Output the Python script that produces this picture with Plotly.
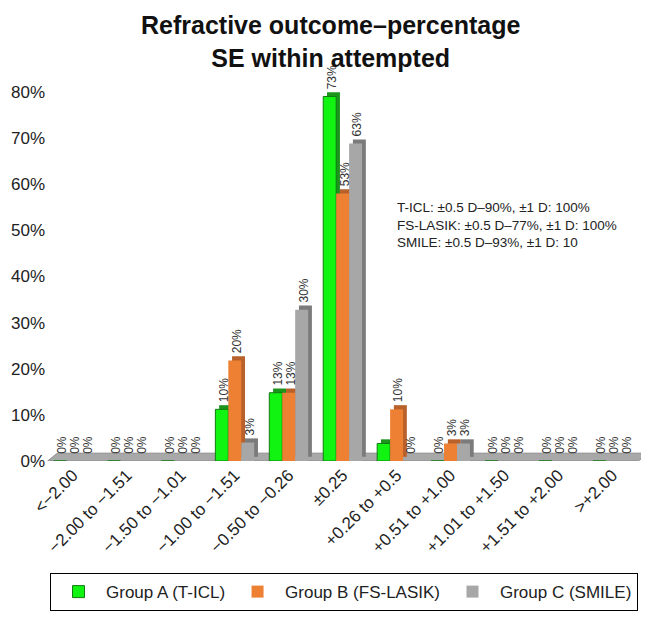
import plotly.graph_objects as go

categories = ["<\u22122.00", "\u22122.00 to \u22121.51", "\u22121.50 to \u22121.01", "\u22121.00 to \u22121.51",
              "\u22120.50 to \u22120.26", "\u00b10.25", "+0.26 to +0.5", "+0.51 to +1.00",
              "+1.01 to +1.50", "+1.51 to +2.00", ">+2.00"]

group_a = [0, 0, 0, 11.2, 14.8, 79.0, 3.8, 0, 0, 0, 0]
group_b = [0, 0, 0, 21.8, 14.8, 58.0, 11.2, 3.8, 0, 0, 0]
group_c = [0, 0, 0, 4.0, 32.8, 68.8, 0, 3.8, 0, 0, 0]

labels_a = ["0%", "0%", "0%", "10%", "13%", "73%", "", "0%", "0%", "0%", "0%"]
labels_b = ["0%", "0%", "0%", "20%", "13%", "53%", "10%", "3%", "0%", "0%", "0%"]
labels_c = ["0%", "0%", "0%", "3%", "30%", "63%", "0%", "3%", "0%", "0%", "0%"]

y_ticks = [0, 10, 20, 30, 40, 50, 60, 70, 80]
y_ticktext = ["0%", "10%", "20%", "30%", "40%", "50%", "60%", "70%", "80%"]

names = ["Group A (T-ICL)", "Group B (FS-LASIK)", "Group C (SMILE)"]
face = ["#11F311", "#EE8033", "#A7A7A7"]
side = ["#1C951C", "#B9612A", "#7B7B7B"]
edge = ["#137A13", "#EE8033", "#A7A7A7"]

series = [group_a, group_b, group_c]
labels = [labels_a, labels_b, labels_c]
bw = 0.24
offsets = [-0.36, -0.12, 0.12]
dx, dy = 0.07, 0.9

FONT = "Liberation Sans, Arial, sans-serif"

fig = go.Figure()
# depth (3D side) traces
for i in range(3):
    fig.add_trace(go.Bar(
        x=categories, y=series[i], base=dy, offset=offsets[i] + dx, width=bw,
        marker=dict(color=side[i], line=dict(width=0)),
        showlegend=False, hoverinfo="skip"))
# front faces
for i in range(3):
    fig.add_trace(go.Bar(
        x=categories, y=series[i], offset=offsets[i], width=bw, name=names[i],
        marker=dict(color=face[i], line=dict(width=1 if i == 0 else 0, color=edge[i])),
        hoverinfo="x+y"))
# value labels (drawn last, on top)
for i in range(3):
    fig.add_trace(go.Bar(
        x=categories, y=series[i], base=dy, offset=offsets[i] + dx / 2, width=bw,
        text=labels[i], textposition="outside", textangle=-90, constraintext="none",
        textfont=dict(family=FONT, size=12, color="#333333"),
        marker=dict(color="rgba(0,0,0,0)", line=dict(width=0)),
        showlegend=False, hoverinfo="skip", cliponaxis=False))

# floor
fig.add_shape(type="path", xref="x", yref="y",
              path="M -0.47 0 L 10.48 0 L 10.68 1.7 L -0.29 1.7 Z",
              fillcolor="#A8A8A8", line=dict(color="#8C8C8C", width=1), layer="below")

fig.update_layout(
    width=649, height=622,
    barmode="overlay",
    plot_bgcolor="white", paper_bgcolor="white",
    font=dict(family=FONT, color="#222222"),
    margin=dict(l=38, r=15, t=47, b=169, autoexpand=False),
    xaxis=dict(tickangle=-45, tickfont=dict(size=17), showgrid=False, showline=False,
               ticks="", range=[-0.5, 10.55], automargin=False),
    yaxis=dict(range=[0, 88], tickvals=y_ticks, ticktext=y_ticktext,
               tickfont=dict(size=17), showgrid=False, showline=False,
               zeroline=False, ticks="", automargin=False),
    legend=dict(orientation="h", x=0.5, xanchor="center", y=-0.276, yanchor="top",
                bordercolor="#000000", borderwidth=1, font=dict(size=17),
                traceorder="normal", itemwidth=45),
    showlegend=True,
)

fig.add_annotation(xref="paper", yref="paper", x=0.478, y=1.113, xanchor="center", yanchor="top",
                   showarrow=False,
                   text="<b>Refractive outcome\u2013percentage<br>SE within attempted</b>",
                   font=dict(size=25, color="#111111", family=FONT))

fig.add_annotation(xref="paper", yref="paper", x=0.585, y=0.648, xanchor="left", yanchor="top",
                   align="left", showarrow=False,
                   text="T-ICL: \u00b10.5 D\u201390%, \u00b11 D: 100%<br>FS-LASIK: \u00b10.5 D\u201377%, \u00b11 D: 100%<br>SMILE: \u00b10.5 D\u201393%, \u00b11 D: 10",
                   font=dict(size=13.5, color="#222222"))

fig.write_html("out.html")
